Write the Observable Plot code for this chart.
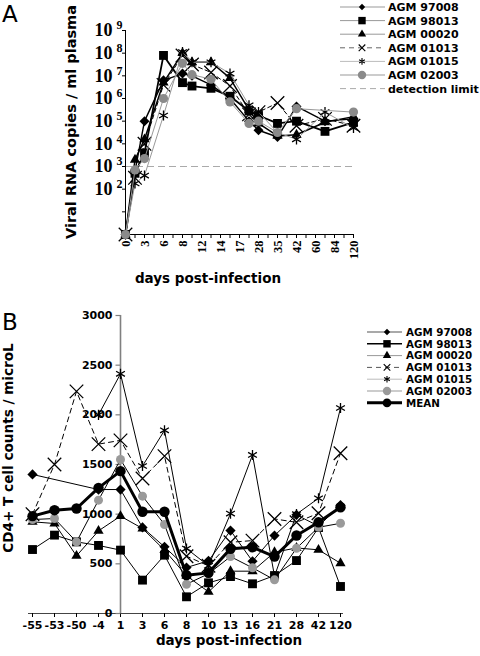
<!DOCTYPE html>
<html><head><meta charset="utf-8">
<script src="https://cdn.jsdelivr.net/npm/d3@7"></script>
<script src="https://cdn.jsdelivr.net/npm/@observablehq/plot@0.6"></script>
<style>
body{margin:0;background:#fff;}
#wrap{width:480px;height:656px;position:relative;overflow:hidden;background:#fff;}
svg{display:block;}
</style></head><body><div id="wrap"></div>
<script>
// ---------- Panel A data ----------
const slotsA = [0,1,2,4,6,7,9,11,13,14,16,18,21,24];
const tickLabelsA = ["0","","3","","6","","8","","12","","14","","17","","28","","35","","42","","60","","84","","120"];
const decadesA = [0,1,2,3,4,5,6,7,8,9];
const labeledDecadesA = [2,3,4,5,6,7,8,9];
const detectionLimitA = 1e3;
// log10 viral RNA copies / ml plasma, one value per slot in slotsA
const a97008 = [0,2.8,5.0,6.8,7.1,7.0,6.6,6.0,5.0,4.6,4.3,5.65,5.0,5.1];
const a98013 = [0,2.7,3.6,7.9,6.7,6.55,6.45,6.1,5.45,5.25,4.9,5.0,4.55,4.95];
const a00020 = [0,3.3,4.2,6.7,8.0,7.6,7.6,6.9,5.5,4.9,4.35,4.4,4.95,5.2];
const a01013 = [0,2.5,4.0,6.6,7.9,7.5,7.15,6.55,5.3,5.4,5.8,4.8,5.1,4.8];
const a01015 = [0,2.25,2.6,5.25,8.05,7.6,7.6,7.1,5.7,5.4,4.5,4.2,5.4,4.7];
const a02003 = [0,2.85,3.35,6.0,7.55,7.05,6.85,5.85,4.9,5.0,4.5,5.55,null,5.4];

// ---------- Panel B data ----------
const daysB = ["-55","-53","-50","-4","1","3","6","8","10","13","16","21","28","42","120"];
const ticksB = [0,500,1000,1500,2000,2500,3000];
const b97008 = [1400,null,null,1248,1248,866,671,463,530,835,526,785,993,880,1090];
const b98013 = [644,789,721,685,638,336,587,168,309,372,299,382,533,865,272];
const b00020 = [923,906,580,832,980,856,638,380,218,426,426,617,660,641,506];
const b01013 = [1000,1500,2236,1705,1743,1359,1584,577,480,717,734,952,918,1009,1613];
const b01015 = [null,null,null,2000,2413,1485,1844,654,480,1006,1596,377,1000,1160,2069];
const b02003 = [946,956,721,1141,1550,1181,896,295,400,573,460,339,657,868,908];
const bMEAN  = [980,1040,1057,1265,1433,1024,1024,386,409,651,667,573,785,918,1070];

const FONT = "DejaVu Sans";
const SERIF = "Liberation Serif";

// ---------- Panel A ----------
const seriesA = [
  {name:"AGM 97008", vals:a97008, symbol:"diamond2", r:4.5, fill:"#000", stroke:"none", line:"#000", lw:1.4},
  {name:"AGM 98013", vals:a98013, symbol:"square", r:5, fill:"#000", stroke:"none", line:"#000", lw:1.8},
  {name:"AGM 00020", vals:a00020, symbol:"triangle", r:3.8, fill:"#000", stroke:"none", line:"#000", lw:1.5},
  {name:"AGM 01013", vals:a01013, symbol:"times", r:6.2, fill:"none", stroke:"#000", line:"#000", lw:1, dash:"4,3"},
  {name:"AGM 01015", vals:a01015, symbol:"asterisk", r:4.8, fill:"none", stroke:"#000", line:"#999", lw:1},
  {name:"AGM 02003", vals:a02003, symbol:"circle", r:4.6, fill:"#8a8a8a", stroke:"none", line:"#999", lw:1}
];

const marksA = [
  Plot.ruleY([detectionLimitA], {stroke:"#aaa", strokeWidth:1, strokeDasharray:"7,4"}),
  Plot.ruleX([0], {y1:1, y2:1e9, stroke:"#000", strokeWidth:1}),
  Plot.ruleY([1], {stroke:"#000", strokeWidth:1}),
  Plot.axisY({ticks: decadesA.map(d => Math.pow(10,d)), tickSize:3, tickFormat: () => "", label:null}),
  Plot.text(labeledDecadesA, {x: () => 0, y: d => Math.pow(10,d), text: () => "10", dx:-13, textAnchor:"end", fontSize:18, fontWeight:"bold", fontFamily:SERIF, fill:"#000"}),
  Plot.text(labeledDecadesA, {x: () => 0, y: d => Math.pow(10,d), text: d => String(d), dx:-3, dy:-5, textAnchor:"end", fontSize:12, fontWeight:"bold", fontFamily:SERIF, fill:"#000"}),
  Plot.axisX({ticks: d3.range(tickLabelsA.length), tickSize:4, tickPadding:2, tickRotate:-90, tickFormat: i => tickLabelsA[i], fontSize:12.5, fontWeight:"bold", fontFamily:SERIF, label:null})
];
for (const s of seriesA) {
  const data = slotsA.map((slot,i) => ({x:slot, v:s.vals[i]})).filter(d => d.v != null).map(d => ({x:d.x, y:Math.pow(10,d.v)}));
  marksA.push(Plot.line(data, {x:"x", y:"y", stroke:s.line, strokeWidth:s.lw, strokeDasharray:s.dash}));
  marksA.push(Plot.dot(data, {x:"x", y:"y", symbol:s.symbol, r:s.r, fill:s.fill, stroke:s.stroke, strokeWidth:1.3}));
}

const plotA = Plot.plot({
  width:480, height:300,
  marginLeft:125, marginRight:127, marginTop:30, marginBottom:66,
  style:{fontFamily:FONT, background:"#fff", color:"#000", overflow:"visible"},
  x:{type:"linear", domain:[0, tickLabelsA.length-1]},
  y:{type:"log", domain:[1,1e9]},
  marks: marksA
});

// ---------- Panel B ----------
const tickSym = {draw(ctx){ ctx.moveTo(-5,0); ctx.lineTo(0,0); }};
const seriesB = [
  {name:"AGM 97008", vals:b97008, symbol:"diamond2", r:4.6, fill:"#000", stroke:"none", line:"#000", lw:1},
  {name:"AGM 98013", vals:b98013, symbol:"square", r:5, fill:"#000", stroke:"none", line:"#000", lw:1},
  {name:"AGM 00020", vals:b00020, symbol:"triangle", r:3.8, fill:"#000", stroke:"none", line:"#000", lw:1},
  {name:"AGM 01013", vals:b01013, symbol:"times", r:6.2, fill:"none", stroke:"#000", line:"#000", lw:1, dash:"5,4"},
  {name:"AGM 01015", vals:b01015, symbol:"asterisk", r:4.8, fill:"none", stroke:"#000", line:"#000", lw:1},
  {name:"AGM 02003", vals:b02003, symbol:"circle", r:4.5, fill:"#9a9a9a", stroke:"none", line:"#000", lw:1},
  {name:"MEAN", vals:bMEAN, symbol:"circle", r:5.2, fill:"#000", stroke:"none", line:"#000", lw:3}
];
const marksB = [
  Plot.ruleY([0], {stroke:"#444", strokeWidth:1}),
  Plot.axisX({tickSize:4, tickPadding:4, fontSize:11, fontWeight:"bold", fontFamily:FONT, label:null}),
  Plot.text(ticksB, {x: () => "1", y: d => d, text: d => String(d), dx:-8, textAnchor:"end", fontSize:11, fontWeight:"bold", fontFamily:FONT, fill:"#000"}),
  Plot.ruleX(["1"], {y1:0, y2:3000, stroke:"#808080", strokeWidth:1.6}),
  Plot.dot(ticksB, {x: () => "1", y: d => d, symbol:tickSym, stroke:"#808080", fill:"none", strokeWidth:1.2})
];
for (const s of seriesB) {
  const data = daysB.map((d,i) => ({x:d, y:s.vals[i]})).filter(d => d.y != null);
  marksB.push(Plot.line(data, {x:"x", y:"y", stroke:s.line, strokeWidth:s.lw, strokeDasharray:s.dash}));
  marksB.push(Plot.dot(data, {x:"x", y:"y", symbol:s.symbol, r:s.r, fill:s.fill, stroke:s.stroke, strokeWidth:1.3}));
}
const plotB = Plot.plot({
  width:480, height:356,
  marginLeft:28, marginRight:137, marginTop:15, marginBottom:43,
  style:{fontFamily:FONT, background:"#fff", color:"#000", overflow:"visible"},
  x:{type:"point", domain:daysB, padding:0},
  y:{domain:[0,3000], axis:null},
  marks: marksB
});

const wrap = document.getElementById("wrap");
wrap.appendChild(plotA);
wrap.appendChild(plotB);

// ---------- titles & legends ----------
function addText(svg, x, y, txt, size, weight, opts={}) {
  const t = svg.append("text").attr("x",x).attr("y",y).text(txt)
    .attr("font-family", opts.family || FONT).attr("font-size", size).attr("font-weight", weight)
    .attr("fill","#000").attr("text-anchor", opts.anchor || "start");
  if (opts.rotate) t.attr("transform", `rotate(-90,${x},${y})`);
  if (opts.dy) t.attr("dy", opts.dy);
  return t;
}
function legend(svg, items, x1, x2, xm, xt, y0, dy, fs) {
  items.forEach((it,i) => {
    const y = y0 + i*dy;
    svg.append("line").attr("x1",x1).attr("x2",x2).attr("y1",y).attr("y2",y)
      .attr("stroke",it.lc).attr("stroke-width",it.lw).attr("stroke-dasharray",it.dash || null);
    if (it.sym) svg.append("path").attr("d", d3.symbol(it.sym, it.size)())
      .attr("transform",`translate(${xm},${y})`).attr("fill",it.fill).attr("stroke",it.stroke).attr("stroke-width",1.1);
    addText(svg, xt, y, it.name, fs, "bold", {dy:"0.36em"});
  });
}
const sA = d3.select(plotA), sB = d3.select(plotB);
addText(sA, 2, 22, "A", 23, "normal");
addText(sA, 71, 122, "Viral RNA copies / ml plasma", 14.5, "bold", {anchor:"middle", rotate:true, dy:"0.36em"});
addText(sA, 208, 283, "days post-infection", 13.5, "bold", {anchor:"middle"});
legend(sA, [
  {name:"AGM 97008", lc:"#999", lw:1, sym:d3.symbolDiamond2, size:26, fill:"#000", stroke:"none"},
  {name:"AGM 98013", lc:"#999", lw:1, sym:d3.symbolSquare, size:55, fill:"#000", stroke:"none"},
  {name:"AGM 00020", lc:"#999", lw:1, sym:d3.symbolTriangle, size:30, fill:"#000", stroke:"none"},
  {name:"AGM 01013", lc:"#666", lw:1, dash:"5,4", sym:d3.symbolTimes, size:30, fill:"none", stroke:"#000"},
  {name:"AGM 01015", lc:"#bbb", lw:1, sym:d3.symbolAsterisk, size:30, fill:"none", stroke:"#000"},
  {name:"AGM 02003", lc:"#999", lw:1, sym:d3.symbolCircle, size:55, fill:"#8a8a8a", stroke:"none"},
  {name:"detection limit", lc:"#aaa", lw:1, dash:"6,4"}
], 340, 385, 362, 388, 7, 13.6, 11);

addText(sB, 2, 30, "B", 23, "normal");
addText(sB, 8, 148, "CD4+ T cell counts / microL", 13.6, "bold", {anchor:"middle", rotate:true, dy:"0.36em"});
addText(sB, 229, 345, "days post-infection", 13.5, "bold", {anchor:"middle"});
legend(sB, [
  {name:"AGM 97008", lc:"#555", lw:1.2, sym:d3.symbolDiamond2, size:26, fill:"#000", stroke:"none"},
  {name:"AGM 98013", lc:"#000", lw:1.6, sym:d3.symbolSquare, size:55, fill:"#000", stroke:"none"},
  {name:"AGM 00020", lc:"#999", lw:1, sym:d3.symbolTriangle, size:30, fill:"#000", stroke:"none"},
  {name:"AGM 01013", lc:"#555", lw:1, dash:"5,4", sym:d3.symbolTimes, size:30, fill:"none", stroke:"#000"},
  {name:"AGM 01015", lc:"#bbb", lw:1, sym:d3.symbolAsterisk, size:30, fill:"none", stroke:"#000"},
  {name:"AGM 02003", lc:"#bbb", lw:1.5, sym:d3.symbolCircle, size:55, fill:"#9a9a9a", stroke:"none"},
  {name:"MEAN", lc:"#000", lw:3, sym:d3.symbolCircle, size:60, fill:"#000", stroke:"none"}
], 367, 402, 387, 406, 32, 11.8, 10.3);
</script></body></html>
